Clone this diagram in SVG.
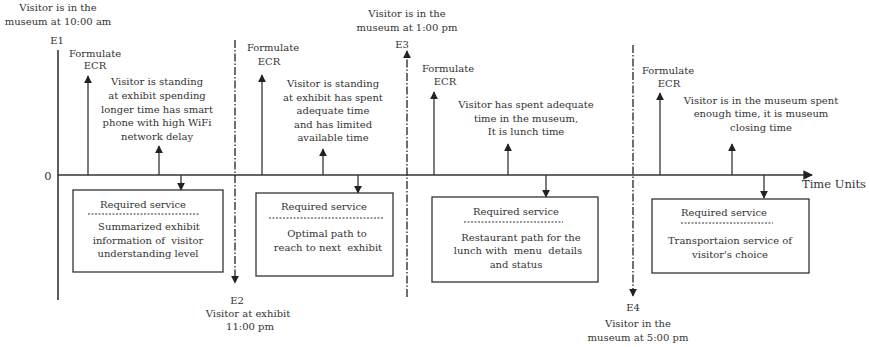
<svg xmlns="http://www.w3.org/2000/svg" width="870" height="347" viewBox="0 0 870 347">
<defs>
<marker id="ah" viewBox="0 0 10 10" refX="9" refY="5" markerWidth="6" markerHeight="6" orient="auto"><path d="M0,0 L10,5 L0,10 z" fill="#222"/></marker>
</defs>
<style>
text{font-family:"DejaVu Serif",serif;font-size:10px;fill:#333;text-anchor:middle;white-space:pre}
.ln{stroke:#333;stroke-width:1.3;fill:none}
.ax{stroke:#333;stroke-width:1.6;fill:none}
.dd{stroke:#222;stroke-width:1.3;fill:none;stroke-dasharray:8,2,1.5,2}
.box{fill:#fff;stroke:#333;stroke-width:1.3}
.sep{stroke:#333;stroke-width:1;stroke-dasharray:2,1.5}
.big{font-size:11.5px}
</style>
<rect width="870" height="347" fill="#fff"/>
<g id="connectors">
<line class="ax" x1="58" y1="50" x2="58" y2="300"/>
<line class="ax" x1="58" y1="175" x2="812" y2="175" marker-end="url(#ah)"/>
<line class="dd" x1="235" y1="40" x2="235" y2="283" marker-end="url(#ah)"/>
<line class="dd" x1="407" y1="297" x2="407" y2="51" marker-end="url(#ah)"/>
<line class="dd" x1="633" y1="45" x2="633" y2="296" marker-end="url(#ah)"/>
<line class="ln" x1="88" y1="175" x2="88" y2="76" marker-end="url(#ah)"/>
<line class="ln" x1="159" y1="175" x2="159" y2="146" marker-end="url(#ah)"/>
<line class="ln" x1="181" y1="175" x2="181" y2="190" marker-end="url(#ah)"/>
<line class="ln" x1="262" y1="175" x2="262" y2="75" marker-end="url(#ah)"/>
<line class="ln" x1="323" y1="175" x2="323" y2="149" marker-end="url(#ah)"/>
<line class="ln" x1="358" y1="175" x2="358" y2="193" marker-end="url(#ah)"/>
<line class="ln" x1="434" y1="175" x2="434" y2="92" marker-end="url(#ah)"/>
<line class="ln" x1="508" y1="175" x2="508" y2="144" marker-end="url(#ah)"/>
<line class="ln" x1="546" y1="175" x2="546" y2="197" marker-end="url(#ah)"/>
<line class="ln" x1="660" y1="175" x2="660" y2="93" marker-end="url(#ah)"/>
<line class="ln" x1="732" y1="175" x2="732" y2="144" marker-end="url(#ah)"/>
<line class="ln" x1="764" y1="175" x2="764" y2="198" marker-end="url(#ah)"/>
</g>
<g id="axis-labels">
<text class="big" x="48" y="180">0</text>
<text class="big" x="834" y="188">Time Units</text>
</g>
<g id="E1">
<text x="58" y="11">Visitor is in the</text>
<text x="58" y="25">museum at 10:00 am</text>
<text x="57" y="44">E1</text>
</g>
<g id="E2">
<text x="237" y="304">E2</text>
<text x="248" y="317">Visitor at exhibit</text>
<text x="250" y="330">11:00 pm</text>
</g>
<g id="E3">
<text x="407" y="17">Visitor is in the</text>
<text x="407" y="31">museum at 1:00 pm</text>
<text x="402" y="48">E3</text>
</g>
<g id="E4">
<text x="633" y="311">E4</text>
<text x="638" y="327">Visitor in the</text>
<text x="638" y="341">museum at 5:00 pm</text>
</g>
<g id="ecr1"><text x="95" y="57">Formulate</text><text x="95" y="69">ECR</text></g>
<g id="ecr2"><text x="273" y="51">Formulate</text><text x="269" y="65">ECR</text></g>
<g id="ecr3"><text x="448" y="72">Formulate</text><text x="445" y="85">ECR</text></g>
<g id="ecr4"><text x="668" y="74">Formulate</text><text x="669" y="87">ECR</text></g>
<g id="cond1">
<text x="157" y="85">Visitor is standing</text>
<text x="157" y="99">at exhibit spending</text>
<text x="157" y="113">longer time has smart</text>
<text x="157" y="126">phone with high WiFi</text>
<text x="157" y="140">network delay</text>
</g>
<g id="cond2">
<text x="333" y="87">Visitor is standing</text>
<text x="333" y="101">at exhibit has spent</text>
<text x="333" y="114">adequate time</text>
<text x="333" y="128">and has limited</text>
<text x="333" y="141">available time</text>
</g>
<g id="cond3">
<text x="526" y="108">Visitor has spent adequate</text>
<text x="526" y="122">time in the museum,</text>
<text x="526" y="135">It is lunch time</text>
</g>
<g id="cond4">
<text x="761" y="104">Visitor is in the museum spent</text>
<text x="761" y="117">enough time, it is museum</text>
<text x="761" y="131">closing time</text>
</g>
<g id="service1">
<rect class="box" x="73" y="190" width="150" height="82"/>
<text x="143" y="208">Required service</text>
<line class="sep" x1="88" y1="214" x2="200" y2="214"/>
<text x="149" y="230">Summarized exhibit</text>
<text x="148" y="244">information of  visitor</text>
<text x="148" y="257">understanding level</text>
</g>
<g id="service2">
<rect class="box" x="256" y="193" width="137" height="83"/>
<text x="324" y="210">Required service</text>
<line class="sep" x1="269" y1="218" x2="384" y2="218"/>
<text x="327" y="237">Optimal path to</text>
<text x="328" y="251">reach to next  exhibit</text>
</g>
<g id="service3">
<rect class="box" x="432" y="197" width="166" height="85"/>
<text x="516" y="215">Required service</text>
<line class="sep" x1="464" y1="222" x2="563" y2="222"/>
<text x="521" y="241">Restaurant path for the</text>
<text x="518" y="254">lunch with  menu  details</text>
<text x="516" y="268">and status</text>
</g>
<g id="service4">
<rect class="box" x="652" y="199" width="157" height="74"/>
<text x="724" y="216">Required service</text>
<line class="sep" x1="681" y1="223" x2="773" y2="223"/>
<text x="730" y="244">Transportaion service of</text>
<text x="730" y="258">visitor's choice</text>
</g>
</svg>
